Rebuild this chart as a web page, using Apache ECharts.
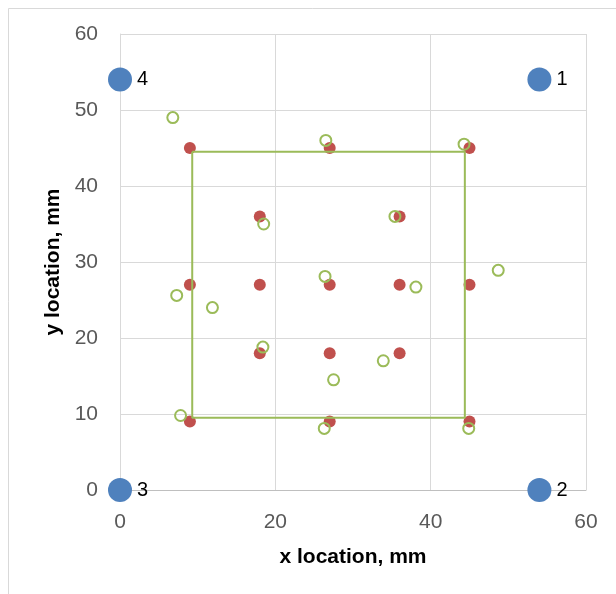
<!DOCTYPE html>
<html>
<head>
<meta charset="utf-8">
<script src="https://cdn.jsdelivr.net/npm/echarts@6/dist/echarts.min.js"></script>
<style>
  html, body { margin: 0; padding: 0; background: #fff; }
  #chart { width: 616px; height: 594px; }
</style>
</head>
<body>
<div id="chart"></div>
<script>
// design grid (filled red)
const designX = [9, 27, 45, 18, 36, 9, 18, 27, 36, 45, 18, 27, 36, 9, 27, 45]
const designY = [45, 45, 45, 36, 36, 27, 27, 27, 27, 27, 18, 18, 18, 9, 9, 9]

// measured locations (green rings)
const measX = [6.8, 26.5, 44.3, 18.5, 35.4, 48.7, 26.4, 7.3, 11.9, 38.1, 18.4, 33.9, 27.5, 7.8, 26.3, 44.9]
const measY = [49, 46, 45.5, 35, 36, 28.9, 28.1, 25.6, 24, 26.7, 18.8, 17, 14.5, 9.8, 8.1, 8.1]

// outline square
const boxX = [9.3, 44.4, 44.4, 9.3, 9.3]
const boxY = [44.5, 44.5, 9.5, 9.5, 44.5]

// corner sensors
const sensorX = [54, 54, 0, 0]
const sensorY = [54, 0, 0, 54]
const sensorNames = ['1', '2', '3', '4']

const zip = (xs, ys) => xs.map((x, i) => [x, ys[i]])

const chart = echarts.init(document.getElementById('chart'))

const labelFont = { color: '#595959', fontSize: 21, fontFamily: 'Liberation Sans, Arial, sans-serif' }
const titleFont = { color: '#000', fontSize: 21, fontWeight: 'bold', fontFamily: 'Liberation Sans, Arial, sans-serif' }

chart.setOption({
  animation: false,
  backgroundColor: '#fff',
  graphic: [{
    type: 'rect',
    shape: { x: 8.5, y: 8.5, width: 700, height: 700 },
    style: { fill: 'none', stroke: '#d9d9d9', lineWidth: 1 },
    silent: true
  }],
  grid: { left: 120, right: 30, top: 34, bottom: 104 },
  xAxis: {
    type: 'value',
    min: 0,
    max: 60,
    interval: 20,
    name: 'x location, mm',
    nameLocation: 'middle',
    nameGap: 57,
    nameTextStyle: titleFont,
    axisLine: { show: true, onZero: false, lineStyle: { color: '#bfbfbf' } },
    axisTick: { show: false },
    axisLabel: Object.assign({ margin: 22 }, labelFont),
    splitLine: { lineStyle: { color: '#d9d9d9' } }
  },
  yAxis: {
    type: 'value',
    min: 0,
    max: 60,
    interval: 10,
    name: 'y location, mm',
    nameLocation: 'middle',
    nameGap: 56,
    nameTextStyle: titleFont,
    axisLine: { show: true, onZero: false, lineStyle: { color: '#d9d9d9' } },
    axisTick: { show: false },
    axisLabel: Object.assign({ margin: 22 }, labelFont),
    splitLine: { lineStyle: { color: '#d9d9d9' } }
  },
  series: [
    {
      type: 'line',
      data: zip(boxX, boxY),
      showSymbol: false,
      lineStyle: { color: '#9bbb59', width: 2 }
    },
    {
      type: 'scatter',
      data: zip(designX, designY),
      symbolSize: 12,
      itemStyle: { color: '#c0504d', opacity: 1 }
    },
    {
      type: 'scatter',
      data: zip(measX, measY),
      symbolSize: 11,
      itemStyle: { color: 'rgba(255,255,255,0)', borderColor: '#9bbb59', borderWidth: 2, opacity: 1 }
    },
    {
      type: 'scatter',
      data: sensorX.map((x, i) => ({ value: [x, sensorY[i]], name: sensorNames[i] })),
      symbolSize: 24,
      itemStyle: { color: '#4f81bd', opacity: 1 },
      label: {
        show: true,
        position: 'right',
        distance: 5,
        formatter: p => p.name,
        color: '#000',
        fontSize: 20,
        fontFamily: 'Liberation Sans, Arial, sans-serif'
      }
    }
  ]
})
</script>
</body>
</html>
